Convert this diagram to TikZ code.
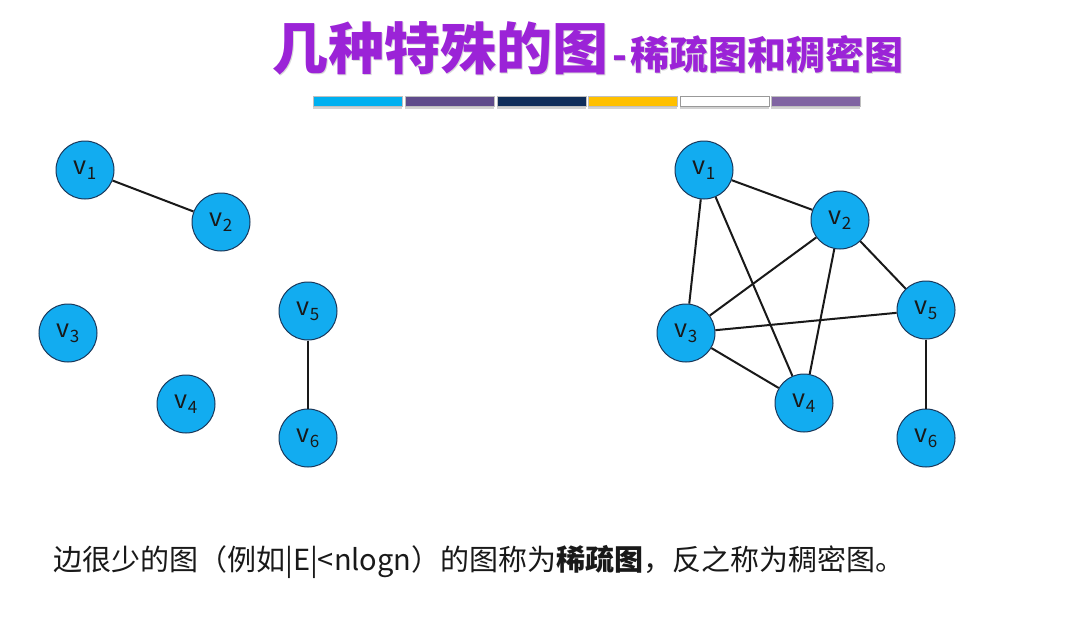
\documentclass[tikz,border=0pt]{standalone}
\usepackage{fontspec}
\setmainfont{Noto Sans CJK SC}
\usetikzlibrary{shadows}
\definecolor{titlepurple}{RGB}{155,35,215}
\definecolor{nodeblue}{RGB}{18,172,240}
\definecolor{nodeedge}{RGB}{25,55,90}
\definecolor{barA}{RGB}{0,176,240}
\definecolor{barB}{RGB}{95,75,139}
\definecolor{barC}{RGB}{15,45,90}
\definecolor{barD}{RGB}{255,192,0}
\definecolor{barE}{RGB}{255,255,255}
\definecolor{barF}{RGB}{128,100,162}
\newcommand{\vlab}[1]{v\raisebox{-0.2em}{\fontsize{17}{17}\selectfont #1}}
\newcommand{\titletext}{\bfseries\fontsize{56}{60}\selectfont 几种特殊的图\fontsize{39}{42}\selectfont\hspace{4pt}-\hspace{3pt}稀疏图和稠密图}
\begin{document}
\begin{tikzpicture}[x=1pt,y=-1pt,
  vertex/.style={circle,minimum size=58pt,inner sep=0pt,fill=nodeblue,draw=nodeedge,line width=1pt,
    font=\fontsize{25}{25}\selectfont,text=black!90},
  edge/.style={line width=2pt,black!90},
  barseg/.style={minimum width=89pt,minimum height=10pt,inner sep=0pt,draw=black!25,line width=0.5pt,
    drop shadow={shadow xshift=0pt,shadow yshift=-3pt,opacity=0.35}}]
\useasboundingbox[fill=white] (0,0) rectangle (1089,627);

% title with a faint shadow
\node[anchor=west,inner sep=0pt,text=black!15] at (273.5,49.5) {\titletext};
\node (title)[anchor=west,inner sep=0pt,text=titlepurple] at (272,48) {\titletext};

% colour bar
\node (b1)[barseg,fill=barA] at (357.5,101) {};
\node (b2)[barseg,fill=barB] at (449.5,101) {};
\node (b3)[barseg,fill=barC] at (541.5,101) {};
\node (b4)[barseg,fill=barD] at (632.5,101) {};
\node (b5)[barseg,fill=barE,draw=black!40] at (724.5,101) {};
\node (b6)[barseg,fill=barF] at (815.5,101) {};

% sparse graph
\node (L1)[vertex] at (85,170) {\vlab1};
\node (L2)[vertex] at (221,222) {\vlab2};
\node (L3)[vertex] at (68,333) {\vlab3};
\node (L4)[vertex] at (186,404) {\vlab4};
\node (L5)[vertex] at (308,311) {\vlab5};
\node (L6)[vertex] at (308,438) {\vlab6};
\draw[edge] (L1) -- (L2);
\draw[edge] (L5) -- (L6);

% dense graph
\node (R1)[vertex] at (704,170) {\vlab1};
\node (R2)[vertex] at (840,220) {\vlab2};
\node (R3)[vertex] at (686,333) {\vlab3};
\node (R4)[vertex] at (804,403) {\vlab4};
\node (R5)[vertex] at (926,310) {\vlab5};
\node (R6)[vertex] at (926,438) {\vlab6};
\draw[edge] (R1) -- (R2);
\draw[edge] (R1) -- (R3);
\draw[edge] (R1) -- (R4);
\draw[edge] (R2) -- (R3);
\draw[edge] (R2) -- (R4);
\draw[edge] (R2) -- (R5);
\draw[edge] (R3) -- (R4);
\draw[edge] (R3) -- (R5);
\draw[edge] (R5) -- (R6);

% caption
\node (caption)[anchor=west,inner sep=0pt,font=\fontsize{29}{33}\selectfont,text=black!90] at (53,562)
  {边很少的图（例如|E|<nlogn）的图称为\textbf{稀疏图}，反之称为稠密图。};
\end{tikzpicture}
\end{document}
